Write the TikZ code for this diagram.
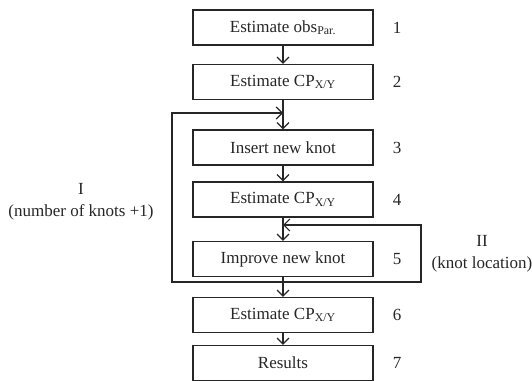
\documentclass[tikz,border=0pt]{standalone}
\usepackage{fontspec}
\setmainfont{Liberation Serif}
\usetikzlibrary{arrows.meta}

\begin{document}
\begin{tikzpicture}[x = 1pt, y = -1pt, > = {Straight Barb[length = 6pt, width = 12pt]},
	box/.style = {draw, line width = 1.2pt, minimum width = 180pt, minimum height = 35pt, inner sep = 0pt, font = \fontsize{17}{20}\selectfont},
	num/.style = {font = \fontsize{17}{20}\selectfont},
	note/.style = {font = \fontsize{17}{20}\selectfont, align = center},
	flow/.style = {line width = 1.2pt, ->}]

	% Definition
	
	\def\X{283}		% Centre of flow boxes
	\def\N{397}		% Column of step numbers
	
	\useasboundingbox (0, 0) rectangle (532, 380);
	
	\begin{scope}[color = black!85]
	
	% Steps + numbers
	
	\foreach \n/\txt/\y in {1/{Estimate obs\textsubscript{Par.}}/27.5, 2/{Estimate CP\textsubscript{X/Y}}/82,
		3/{Insert new knot}/147.5, 4/{Estimate CP\textsubscript{X/Y}}/199.5, 5/{Improve new knot}/259,
		6/{Estimate CP\textsubscript{X/Y}}/315, 7/{Results}/363}
	{
		\node [box] (step\n) at (\X, \y) {\txt};
		\node [num] (num\n) at (\N, \y) {\n};
	}
	
	% Arrows between steps
	
	\foreach \a/\b in {1/2, 2/3, 3/4, 4/5, 5/6, 6/7}
		\draw [flow] (step\a) -- (step\b);
	
	% Loop points on the main line
	
	\coordinate (fork) at (\X, 282);
	\coordinate (joinI) at (\X, 113);
	\coordinate (joinII) at (\X, 225);
	
	% Loop I (number of knots)
	
	\draw [flow] (fork) -- ++ (-111, 0) |- (joinI);
	
	% Loop II (knot location)
	
	\draw [flow] (fork) -- ++ (138, 0) |- (joinII);
	
	% Loop labels
	
	\node [note] (loopI) at (81, 202) {I\\[2pt](number of knots +1)};
	\node [note] (loopII) at (482, 254) {II\\[2pt](knot location)};
	
	\end{scope}

\end{tikzpicture}
\end{document}
